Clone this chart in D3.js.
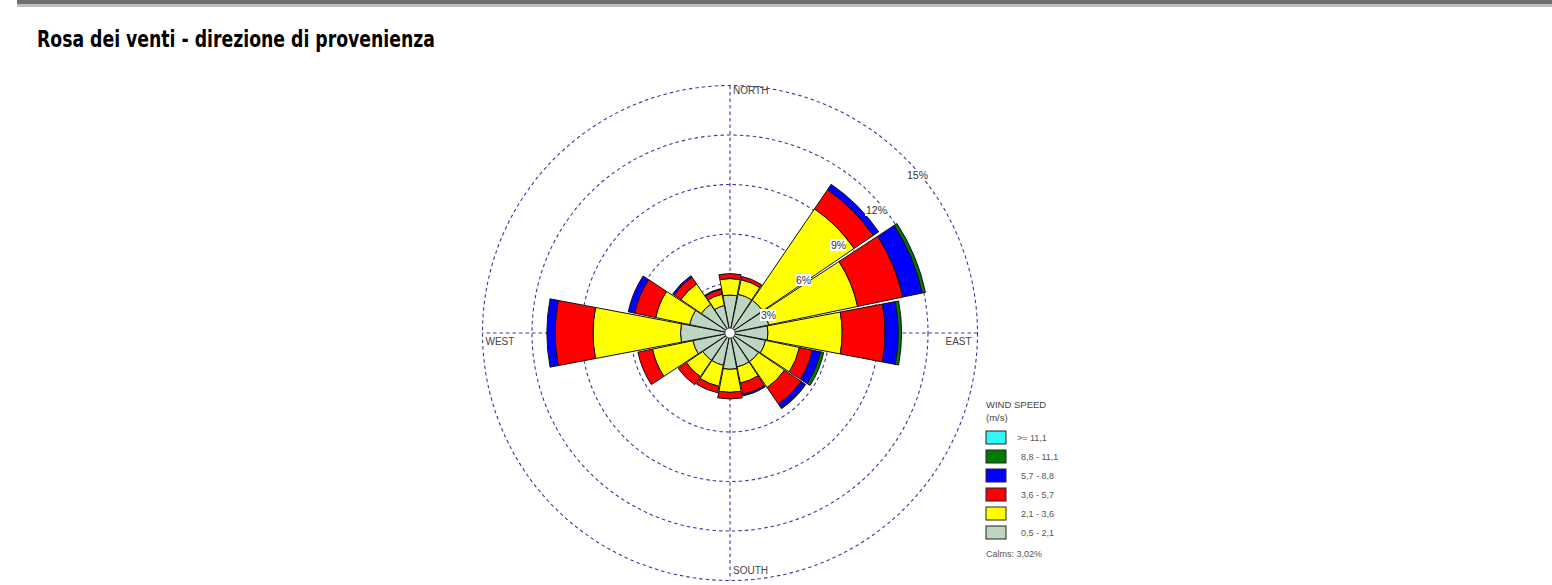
<!DOCTYPE html>
<html>
<head>
<meta charset="utf-8">
<script src="https://cdn.jsdelivr.net/npm/d3@7"></script>
<style>
  body { margin: 0; background: #fff; }
  text { font-family: "Liberation Sans", Arial, sans-serif; }
</style>
</head>
<body>
<div id="rose"></div>
<script>
// 16 sectors, bearing of each (degrees from north, clockwise)
var directions = ['N', 'NNE', 'NE', 'ENE', 'E', 'ESE', 'SE', 'SSE', 'S', 'SSW', 'SW', 'WSW', 'W', 'WNW', 'NW', 'NNW']
var bearings = [0, 22.5, 45, 67.5, 90, 112.5, 135, 157.5, 180, 202.5, 225, 247.5, 270, 292.5, 315, 337.5]

// frequency (%) of each speed class per direction
var speed05_21  = [2.3, 2.4, 2.4, 2.4, 2.3, 2.2, 2.1, 2.1, 2.2, 2.0, 2.0, 2.3, 3.0, 2.5, 2.1, 1.7]
var speed21_36  = [1.0, 0.9, 6.7, 5.5, 4.5, 2.1, 1.9, 1.0, 1.4, 1.3, 1.2, 2.5, 5.3, 2.1, 1.5, 0.7]
var speed36_57  = [0.3, 0.2, 1.4, 2.8, 2.6, 0.8, 1.2, 0.7, 0.4, 0.4, 0.6, 0.9, 2.3, 1.3, 0.5, 0.3]
var speed57_88  = [0,   0,   0.4, 1.2, 0.8, 0.5, 0.3, 0.1, 0,   0,   0,   0,   0.5, 0.4, 0.1, 0.05]
var speed88_111 = [0,   0,   0,   0.2, 0.2, 0.2, 0.05, 0,  0,   0,   0,   0,   0,   0,   0,   0]
var speed111    = [0,   0,   0,   0,   0,   0,   0,   0,   0,   0,   0,   0,   0,   0,   0,   0]

var classLabels = ['0,5 - 2,1', '2,1 - 3,6', '3,6 - 5,7', '5,7 - 8,8', '8,8 - 11,1', '>= 11,1']
var classColors = ['#bdd5c1', '#ffff00', '#ff0000', '#0000ff', '#007a00', '#33f5f5']
var series = [speed05_21, speed21_36, speed36_57, speed57_88, speed88_111, speed111]

var ringTicks = [3, 6, 9, 12, 15]
var compass = [
  {name: 'NORTH', bearing: 0},
  {name: 'EAST', bearing: 90},
  {name: 'SOUTH', bearing: 180},
  {name: 'WEST', bearing: 270}
]
var calms = 'Calms: 3,02%'
var title = 'Rosa dei venti - direzione di provenienza'

var width = 1552, height = 585
var cx = 730, cy = 333

var svg = d3.select('#rose').append('svg')
  .attr('width', width).attr('height', height)

// grey band across the top of the page
svg.append('rect').attr('x', 17).attr('y', 0).attr('width', width - 17).attr('height', 4).attr('fill', '#6e6e6e')
svg.append('rect').attr('x', 17).attr('y', 4).attr('width', width - 17).attr('height', 3).attr('fill', '#bdbdbd')

svg.append('text')
  .attr('x', 37).attr('y', 47)
  .attr('textLength', 398).attr('lengthAdjust', 'spacingAndGlyphs')
  .style('font-family', '"DejaVu Sans", Verdana, sans-serif')
  .style('font-weight', 'bold').style('font-size', '23px')
  .attr('fill', '#000')
  .text(title)

var r = d3.scaleLinear().domain([0, 15]).range([0, 247.5])
var rad = function(deg){ return deg * Math.PI / 180 }
var polar = function(v, deg){ return [cx + r(v) * Math.sin(rad(deg)), cy - r(v) * Math.cos(rad(deg))] }

var g = svg.append('g')
var dashColor = '#3a3aa0'

// dashed rings and compass axes
g.selectAll('circle.ring').data(ringTicks).enter().append('circle')
  .attr('class', 'ring')
  .attr('cx', cx).attr('cy', cy).attr('r', d => r(d))
  .attr('fill', 'none').attr('stroke', dashColor).attr('stroke-width', 1.1)
  .attr('stroke-dasharray', '3.5,3')

g.selectAll('line.axis').data([0, 90]).enter().append('line')
  .attr('class', 'axis')
  .attr('x1', d => polar(15, d)[0]).attr('y1', d => polar(15, d)[1])
  .attr('x2', d => polar(15, d + 180)[0]).attr('y2', d => polar(15, d + 180)[1])
  .attr('stroke', dashColor).attr('stroke-width', 1.1).attr('stroke-dasharray', '3.5,3')

// stacked sectors
var half = 10.75
var arc = d3.arc()
var segs = []
bearings.forEach(function(b, i){
  var cum = 0
  series.forEach(function(s, k){
    if (s[i] > 0){
      segs.push({bearing: b, k: k, from: cum, to: cum + s[i]})
      cum += s[i]
    }
  })
})

g.selectAll('path.seg').data(segs).enter().append('path')
  .attr('class', 'seg')
  .attr('transform', 'translate(' + cx + ',' + cy + ')')
  .attr('d', d => arc({
    innerRadius: r(d.from), outerRadius: r(d.to),
    startAngle: rad(d.bearing - half), endAngle: rad(d.bearing + half)
  }))
  .attr('fill', d => classColors[d.k])
  .attr('stroke', '#111').attr('stroke-width', 1).attr('stroke-linejoin', 'round')

// calm circle
g.append('circle').attr('cx', cx).attr('cy', cy).attr('r', 5)
  .attr('fill', '#fff').attr('stroke', '#444').attr('stroke-width', 0.8)

// ring labels along the 45 degree line, on a white box
var lab = g.selectAll('g.rlab').data(ringTicks).enter().append('g')
  .attr('class', 'rlab')
  .attr('transform', d => 'translate(' + (polar(d, 45)[0] - 4 + (d == 15 ? 6 : 0)) + ',' + (polar(d, 45)[1] + 17) + ')')
lab.append('rect')
  .attr('x', -1).attr('y', -6)
  .attr('width', d => d < 10 ? 16 : 22).attr('height', 12)
  .attr('fill', '#fff')
lab.append('text')
  .attr('dy', '0.35em')
  .style('font-size', '10.5px').attr('fill', '#333')
  .text(d => d + '%')

// compass words
g.selectAll('text.cmp').data(compass).enter().append('text')
  .attr('class', 'cmp')
  .attr('x', function(d){
    if (d.name == 'EAST') return polar(15, 90)[0] - 32
    if (d.name == 'WEST') return polar(15, 270)[0] + 3
    return cx + 3
  })
  .attr('y', function(d){
    if (d.name == 'NORTH') return polar(15, 0)[1] + 8
    if (d.name == 'SOUTH') return polar(15, 180)[1] - 7
    return cy + 12
  })
  .style('font-size', '10px').attr('fill', '#444')
  .text(d => d.name)

// legend
var lg = svg.append('g').attr('transform', 'translate(986,0)')
lg.append('text').attr('x', 0).attr('y', 408).style('font-size', '9.5px').attr('fill', '#444').text('WIND SPEED')
lg.append('text').attr('x', 0).attr('y', 421).style('font-size', '9.5px').attr('fill', '#444').text('(m/s)')

var order = d3.range(classLabels.length).reverse()
var item = lg.selectAll('g.item').data(order).enter().append('g')
  .attr('class', 'item')
  .attr('transform', (d, i) => 'translate(0,' + (431 + i * 19) + ')')
item.append('rect')
  .attr('width', 20).attr('height', 13)
  .attr('fill', d => classColors[d]).attr('stroke', '#222').attr('stroke-width', 1)
item.append('text')
  .attr('x', d => d == 5 ? 31 : 35).attr('y', 10)
  .style('font-size', '9px').attr('fill', '#555')
  .text(d => classLabels[d])

lg.append('text').attr('x', 0).attr('y', 557).style('font-size', '9px').attr('fill', '#555').text(calms)
</script>
</body>
</html>
